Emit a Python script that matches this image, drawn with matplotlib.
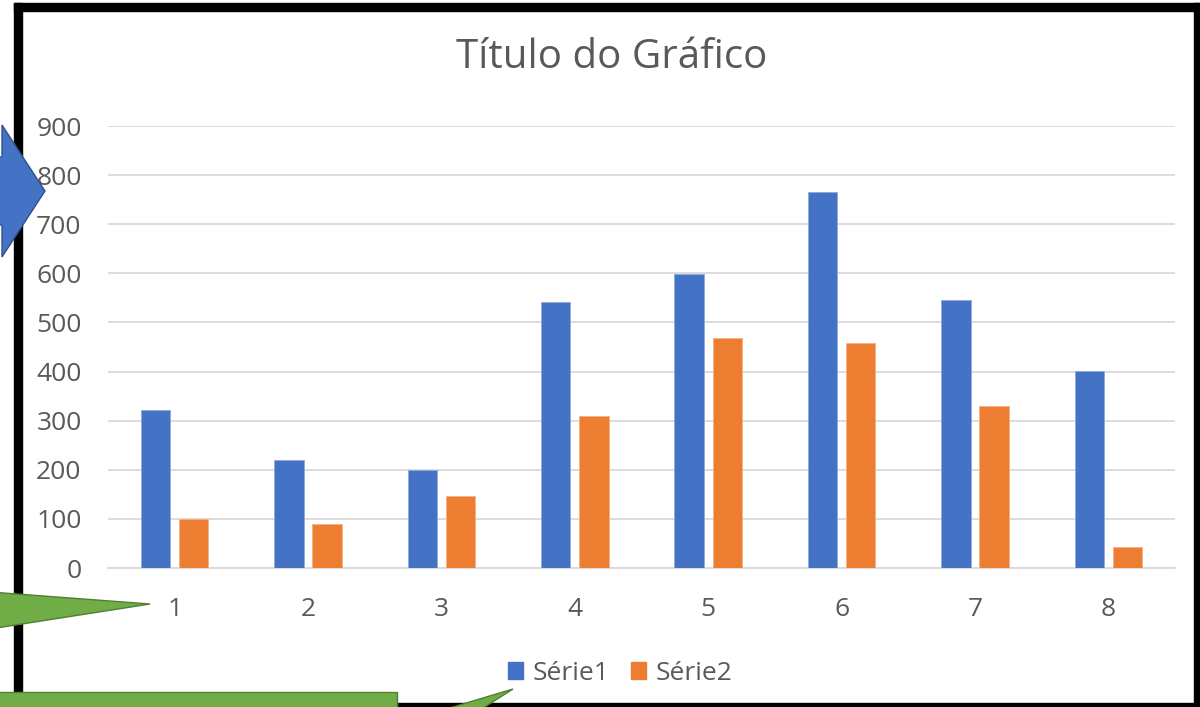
import matplotlib
matplotlib.use("Agg")
import matplotlib.pyplot as plt
from matplotlib.patches import Polygon, Rectangle, Patch
import numpy as np

categories = [1, 2, 3, 4, 5, 6, 7, 8]
serie1 = [322, 220, 199, 542, 598, 765, 546, 401]
serie2 = [100, 90, 146, 309, 468, 459, 329, 43]
series_names = ["Série1", "Série2"]
y_ticks = [0, 100, 200, 300, 400, 500, 600, 700, 800, 900]

BLUE = "#4472C4"
ORANGE = "#ED7D31"
GRID = "#D9D9D9"
TEXT = "#595959"
GREEN = "#70AD47"
GREEN_EDGE = "#507E32"

plt.rcParams["font.family"] = ["Open Sans", "DejaVu Sans"]

W, H = 1200, 707
fig = plt.figure(figsize=(W / 100, H / 100), dpi=100)
fig.patch.set_facecolor("white")

# plot area, in pixels of the reference
left, right, top, bottom = 108, 1175, 126, 568
ax = fig.add_axes([left / W, 1 - bottom / H, (right - left) / W, (bottom - top) / H])

x = np.arange(len(categories))
width = 0.22
offset = 0.143
ax.bar(x - offset, serie1, width, color=BLUE, edgecolor="#8FAADC", linewidth=0.6, zorder=3)
ax.bar(x + offset, serie2, width, color=ORANGE, edgecolor="#F4B183", linewidth=0.6, zorder=3)

ax.set_xlim(-0.5, len(categories) - 0.5)
ax.set_ylim(0, 900)
ax.set_yticks(y_ticks)
ax.set_xticks(x)
ax.set_xticklabels([str(c) for c in categories])
ax.grid(axis="y", color=GRID, linewidth=1.3, zorder=0)
ax.set_axisbelow(True)
for s in ["left", "right", "top"]:
    ax.spines[s].set_visible(False)
ax.spines["bottom"].set_color(GRID)
ax.spines["bottom"].set_linewidth(1.3)
ax.tick_params(axis="both", length=0, labelsize=19, labelcolor=TEXT)
ax.tick_params(axis="y", pad=19)
ax.tick_params(axis="x", pad=21)

fig.text(612 / W, 1 - 58 / H, "Título do Gráfico", ha="center", va="center",
         fontsize=29, color=TEXT)

handles = [Patch(facecolor=BLUE, edgecolor=BLUE), Patch(facecolor=ORANGE, edgecolor=ORANGE)]
fig.legend(handles, series_names, loc="center", bbox_to_anchor=(620 / W, 1 - 673 / H),
           ncol=2, frameon=False, fontsize=19, labelcolor=TEXT,
           handlelength=0.6, handleheight=0.6, handletextpad=0.35, columnspacing=0.8)

# overlay with the frame and the drawn shapes
ov = fig.add_axes([0, 0, 1, 1], zorder=10)
ov.set_xlim(0, W)
ov.set_ylim(H, 0)
ov.axis("off")
ov.patch.set_alpha(0)

ov.add_patch(Rectangle((14, 3), 8, 710, color="black"))
ov.add_patch(Rectangle((14, 3), 1200, 8, color="black"))
ov.add_patch(Rectangle((1194, 3), 10, 710, color="black"))
ov.add_patch(Rectangle((14, 703), 1200, 10, color="black"))

ov.add_patch(Polygon([(-10, 157), (2, 157), (2, 125), (45, 191), (2, 257), (2, 225), (-10, 225)],
                     closed=True, facecolor=BLUE, edgecolor="#2F528F", linewidth=1))
ov.add_patch(Polygon([(-10, 592), (150, 604), (-10, 629)], closed=True,
                     facecolor=GREEN, edgecolor=GREEN_EDGE, linewidth=1))
ov.add_patch(Rectangle((-10, 692), 407, 25, facecolor=GREEN, edgecolor=GREEN_EDGE, linewidth=1))
ov.add_patch(Polygon([(443, 710), (513, 689), (480, 710)], closed=True,
                     facecolor=GREEN, edgecolor=GREEN_EDGE, linewidth=1))

fig.savefig("out.png", dpi=100)
